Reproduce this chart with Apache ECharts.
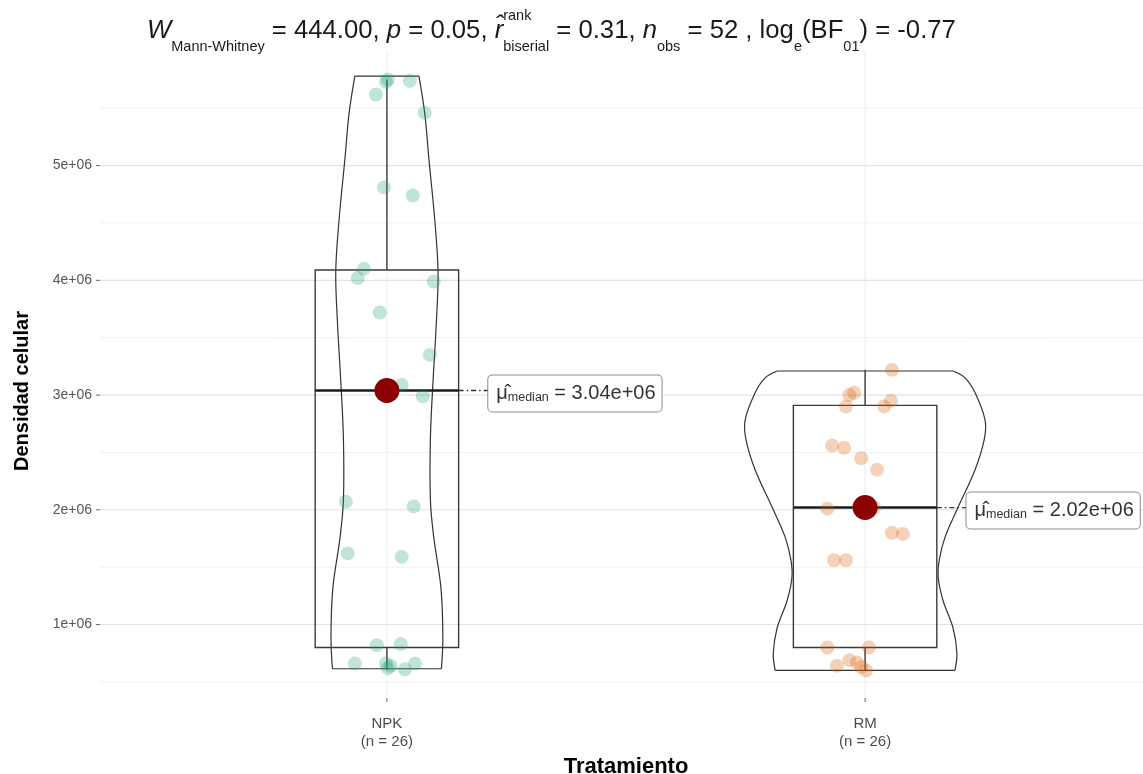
<!DOCTYPE html>
<html><head><meta charset="utf-8">
<script src="https://cdn.jsdelivr.net/npm/echarts@6/dist/echarts.min.js"></script>
<style>html,body{margin:0;padding:0;background:#fff}#c{width:1143px;height:774px}</style>
</head><body><div id="c"></div>
<script>
// ---------- data ----------
const categories = ['NPK', 'RM'];
const groupCounts = [26, 26];
const yTickValues = [1000000, 2000000, 3000000, 4000000, 5000000];
const yTickLabels = ['1e+06', '2e+06', '3e+06', '4e+06', '5e+06'];
const yMinorGridValues = [500000, 1500000, 2500000, 3500000, 4500000, 5500000];

const npkValues = [5750000, 5740000, 5730000, 5620000, 5460000, 4810000, 4740000, 4100000, 4020000, 3990000, 3720000, 3350000, 3090000, 2990000, 2070000, 2030000, 1620000, 1590000, 820000, 830000, 660000, 660000, 620000, 610000, 660000, 640000];
const npkJitter = [0.002, 0.048, -0.002, -0.023, 0.079, -0.006, 0.054, -0.048, -0.061, 0.098, -0.015, 0.090, 0.031, 0.075, -0.086, 0.056, -0.082, 0.031, -0.021, 0.029, -0.067, -0.002, 0.002, 0.038, 0.059, 0.008];
const rmValues = [3220000, 3020000, 3000000, 2900000, 2950000, 2900000, 2560000, 2540000, 2450000, 2350000, 2030000, 2030000, 2020000, 2020000, 2010000, 1800000, 1790000, 1560000, 1560000, 800000, 800000, 640000, 690000, 670000, 600000, 630000];
const rmJitter = [0.056, -0.023, -0.033, -0.040, 0.054, 0.040, -0.069, -0.044, -0.008, 0.025, 0.008, -0.013, 0, 0.019, -0.079, 0.056, 0.079, -0.065, -0.040, -0.079, 0.008, -0.059, -0.033, -0.017, 0.002, -0.008];

// violin outlines: density level (value) and half width (x units)
const npkViolinLevels = [5780000, 5460000, 5050000, 4530000, 4070000, 3600000, 3160000, 2630000, 2080000, 1760000, 1320000, 890000, 615000];
const npkViolinHalfWidth = [0.067, 0.079, 0.088, 0.100, 0.107, 0.103, 0.097, 0.091, 0.091, 0.098, 0.113, 0.117, 0.114];
const rmViolinLevels = [3210000, 3150000, 3020000, 2780000, 2610000, 2350000, 2000000, 1760000, 1560000, 1410000, 1210000, 970000, 750000, 600000];
const rmViolinHalfWidth = [0.184, 0.209, 0.230, 0.251, 0.249, 0.230, 0.192, 0.167, 0.155, 0.153, 0.163, 0.184, 0.192, 0.188];

// box statistics
const whiskerLow = [610000, 600000];
const q1 = [800000, 800000];
const medians = [3040000, 2020000];
const q3 = [4090000, 2910000];
const whiskerHigh = [5750000, 3220000];
const medianLabels = ['3.04e+06', '2.02e+06'];

// ---------- chart ----------
const F = "'Liberation Sans', Arial, sans-serif";
const chart = echarts.init(document.getElementById('c'), null, { renderer: 'canvas' });

const violinLevels = [npkViolinLevels, rmViolinLevels];
const violinHalfWidths = [npkViolinHalfWidth, rmViolinHalfWidth];
const BOX_HALF = 0.15;
const LABEL_OFF = 0.212;

const guideData = [].concat(
  yTickValues.map(v => [0, v]),
  yMinorGridValues.map(v => [1, v]),
  categories.map((c, i) => [2, i + 1]),
  yTickValues.map(v => [3, v]),
  categories.map((c, i) => [4, i + 1])
);

function renderGuide(params, api) {
  const kind = api.value(0), v = api.value(1);
  const cs = params.coordSys;
  if (kind === 0 || kind === 1) {
    const y = api.coord([1, v])[1];
    return { type: 'line', silent: true, shape: { x1: cs.x, y1: y, x2: cs.x + cs.width, y2: y },
      style: { stroke: kind === 0 ? '#e2e2e2' : '#efefef', lineWidth: kind === 0 ? 1.1 : 0.9 } };
  }
  if (kind === 2) {
    const x = api.coord([v, 1000000])[0];
    return { type: 'line', silent: true, shape: { x1: x, y1: cs.y, x2: x, y2: cs.y + cs.height },
      style: { stroke: '#ececec', lineWidth: 1 } };
  }
  if (kind === 3) {
    const y = api.coord([1, v])[1];
    return { type: 'line', silent: true, shape: { x1: cs.x - 4, y1: y, x2: cs.x, y2: y },
      style: { stroke: '#666', lineWidth: 1 } };
  }
  const x = api.coord([v, 1000000])[0];
  return { type: 'line', silent: true, shape: { x1: x, y1: cs.y + cs.height, x2: x, y2: cs.y + cs.height + 4 },
    style: { stroke: '#666', lineWidth: 1 } };
}

function renderViolin(params, api) {
  const cx = api.value(0), g = api.value(1);
  const lv = violinLevels[g], hw = violinHalfWidths[g];
  const right = [], left = [];
  for (let i = 0; i < lv.length; i++) {
    right.push(api.coord([cx + hw[i], lv[i]]));
    left.push(api.coord([cx - hw[i], lv[i]]));
  }
  const st = { fill: 'none', stroke: '#333', lineWidth: 1.2 };
  const n = lv.length - 1;
  return { type: 'group', silent: true, children: [
    { type: 'polyline', shape: { points: right, smooth: 0.35 }, style: st },
    { type: 'polyline', shape: { points: left, smooth: 0.35 }, style: st },
    { type: 'line', shape: { x1: left[0][0], y1: left[0][1], x2: right[0][0], y2: right[0][1] }, style: st },
    { type: 'line', shape: { x1: left[n][0], y1: left[n][1], x2: right[n][0], y2: right[n][1] }, style: st }
  ] };
}

function renderBox(params, api) {
  const cx = api.value(0), g = api.value(1);
  const tl = api.coord([cx - BOX_HALF, q3[g]]);
  const br = api.coord([cx + BOX_HALF, q1[g]]);
  const top = api.coord([cx, whiskerHigh[g]]);
  const q3c = api.coord([cx, q3[g]]);
  const q1c = api.coord([cx, q1[g]]);
  const low = api.coord([cx, whiskerLow[g]]);
  const mL = api.coord([cx - BOX_HALF, medians[g]]);
  const mR = api.coord([cx + BOX_HALF, medians[g]]);
  const st = { fill: 'none', stroke: '#3a3a3a', lineWidth: 1.4 };
  return { type: 'group', silent: true, children: [
    { type: 'rect', shape: { x: tl[0], y: tl[1], width: br[0] - tl[0], height: br[1] - tl[1] }, style: st },
    { type: 'line', shape: { x1: top[0], y1: top[1], x2: q3c[0], y2: q3c[1] }, style: st },
    { type: 'line', shape: { x1: q1c[0], y1: q1c[1], x2: low[0], y2: low[1] }, style: st },
    { type: 'line', shape: { x1: mL[0], y1: mL[1], x2: mR[0], y2: mR[1] }, style: { stroke: '#1a1a1a', lineWidth: 2.6 } }
  ] };
}

function renderLabel(params, api) {
  const cx = api.value(0), m = api.value(1), g = api.value(2);
  const a = api.coord([cx + BOX_HALF, m]);
  const b = api.coord([cx + LABEL_OFF, m]);
  return { type: 'group', children: [
    { type: 'line', shape: { x1: a[0], y1: a[1], x2: b[0], y2: b[1] },
      style: { stroke: '#333', lineWidth: 1.3, lineDash: [5, 3, 1.5, 3] } },
    { type: 'text', x: b[0], y: b[1] + 3,
      style: {
        text: '{mu|\u03bc\u0302}{sub|median}{v| = ' + medianLabels[g] + '}',
        align: 'left', verticalAlign: 'middle',
        backgroundColor: '#fff', borderColor: '#8c8c8c', borderWidth: 1, borderRadius: 4,
        padding: [7, 6, 7, 8],
        rich: {
          mu: { fontSize: 20, fontFamily: F, fill: '#333', lineHeight: 22 },
          sub: { fontSize: 12.5, fontFamily: F, fill: '#333', lineHeight: 22, verticalAlign: 'bottom', padding: [8, 0, 0, 0] },
          v: { fontSize: 20, fontFamily: F, fill: '#333', lineHeight: 22 }
        }
      } }
  ] };
}

const npkPoints = npkValues.map((v, i) => [1 + npkJitter[i], v]);
const rmPoints = rmValues.map((v, i) => [2 + rmJitter[i], v]);

const titleText = '{it|W}{sub|Mann-Whitney}{n| = 444.00, }{it|p}{n| = 0.05, }{it|r\u0302}{rk|rank}{sub|biserial}{n| = 0.31, }{it|n}{sub|obs}{n| = 52 , log}{sub|e}{n|(BF}{sub|01}{n|) = -0.77}';

const option = {
  backgroundColor: '#fff',
  animation: false,
  title: {
    text: titleText, left: 142, top: 3,
    textStyle: {
      fontWeight: 'normal',
      rich: {
        n: { fontSize: 25.7, fontFamily: F, fontWeight: 'normal', color: '#1a1a1a', lineHeight: 46, verticalAlign: 'middle' },
        it: { fontSize: 25.7, fontFamily: F, fontWeight: 'normal', color: '#1a1a1a', fontStyle: 'italic', lineHeight: 46, verticalAlign: 'middle' },
        sub: { fontSize: 14.5, fontFamily: F, fontWeight: 'normal', color: '#1a1a1a', lineHeight: 17, verticalAlign: 'bottom' },
        rk: { fontSize: 14.5, fontFamily: F, fontWeight: 'normal', color: '#1a1a1a', lineHeight: 17, verticalAlign: 'top', width: 0 }
      }
    }
  },
  graphic: [{
    type: 'text', x: 22, y: 391, rotation: Math.PI / 2,
    style: { text: 'Densidad celular', align: 'center', verticalAlign: 'middle',
      font: 'bold 20px ' + F, fill: '#000' }
  }],
  grid: { left: 100, top: 52, width: 1052, height: 646, containLabel: false, outerBoundsMode: 'none' },
  xAxis: {
    type: 'value', min: 0.4, max: 2.6, interval: 0.2,
    axisLine: { show: false }, axisTick: { show: false }, splitLine: { show: false },
    axisLabel: {
      margin: 17, fontSize: 15, lineHeight: 18, color: '#4d4d4d', fontFamily: F,
      formatter: v => {
        for (let i = 0; i < categories.length; i++) {
          if (Math.abs(v - (i + 1)) < 1e-6) return categories[i] + '\n(n = ' + groupCounts[i] + ')';
        }
        return '';
      }
    },
    name: 'Tratamiento', nameLocation: 'middle', nameGap: 54,
    nameTextStyle: { fontSize: 22, fontWeight: 'bold', color: '#000', fontFamily: F }
  },
  yAxis: {
    type: 'value', min: 360000, max: 5990000,
    axisLine: { show: false }, axisTick: { show: false }, splitLine: { show: false },
    axisLabel: {
      margin: 8, fontSize: 14, color: '#555', fontFamily: F,
      formatter: v => { const i = yTickValues.indexOf(v); return i >= 0 ? yTickLabels[i] : ''; }
    }
  },
  series: [
    { type: 'custom', name: 'guides', renderItem: renderGuide, data: guideData, silent: true, z: 1,
      encode: { x: 0, y: 1 } },
    { type: 'custom', name: 'violin', renderItem: renderViolin,
      data: categories.map((c, i) => [i + 1, i]), encode: { x: 0, y: 1 }, z: 2, silent: true },
    { type: 'custom', name: 'box', renderItem: renderBox,
      data: categories.map((c, i) => [i + 1, i]), encode: { x: 0, y: 1 }, z: 3, silent: true },
    { type: 'scatter', name: 'NPK', data: npkPoints, symbolSize: 14, z: 4,
      itemStyle: { color: 'rgba(27,158,119,0.35)' } },
    { type: 'scatter', name: 'RM', data: rmPoints, symbolSize: 14, z: 4,
      itemStyle: { color: 'rgba(217,95,2,0.35)' } },
    { type: 'custom', name: 'labels', renderItem: renderLabel,
      data: categories.map((c, i) => [i + 1, medians[i], i]), encode: { x: 0, y: 1 }, z: 5 },
    { type: 'scatter', name: 'median', data: categories.map((c, i) => [i + 1, medians[i]]),
      symbolSize: 25, z: 6, itemStyle: { color: '#8b0000', opacity: 1 } }
  ]
};
chart.setOption(option);
</script>
</body></html>
